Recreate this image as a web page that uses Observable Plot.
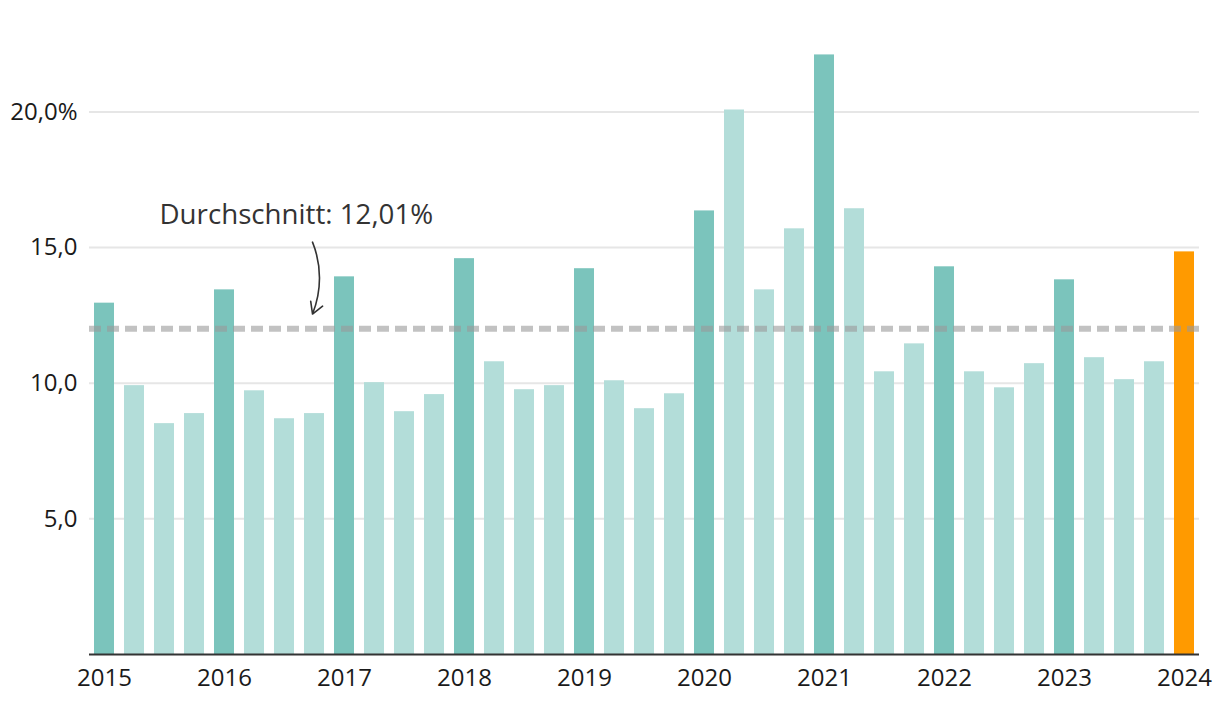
<!DOCTYPE html>
<html><head><meta charset="utf-8">
<script src="https://cdn.jsdelivr.net/npm/d3@7"></script>
<script src="https://cdn.jsdelivr.net/npm/@observablehq/plot@0.6"></script>
<style>
body{margin:0;background:#fff}
#chart svg{font-family:"Open Sans",sans-serif}
</style>
</head><body><div id="chart"></div>
<script>
const years = [2015,2016,2017,2018,2019,2020,2021,2022,2023,2024];
const quarters = ["Q1","Q2","Q3","Q4"];
const periods = years.flatMap(y => quarters.map(q => `${y} ${q}`)).slice(0, 37);
const values = [
  12.95, 9.91, 8.51, 8.88,
  13.44, 9.72, 8.69, 8.88,
  13.92, 10.02, 8.95, 9.58,
  14.59, 10.79, 9.76, 9.91,
  14.22, 10.09, 9.06, 9.61,
  16.35, 20.07, 13.44, 15.69,
  22.10, 16.43, 10.42, 11.45,
  14.29, 10.42, 9.83, 10.72,
  13.81, 10.94, 10.13, 10.79,
  14.84
];
const average = 12.01;
const averageLabel = "Durchschnitt: 12,01%";
const yTicks = [5, 10, 15, 20];
const yTickLabels = ["5,0", "10,0", "15,0", "20,0%"];
const kinds = ["Q1", "other", "current"];
const kindColors = ["#7bc4bc", "#b3ddd9", "#ff9a00"];

const data = periods.map((p, i) => ({
  period: p,
  value: values[i],
  kind: i === periods.length - 1 ? "current" : p.endsWith("Q1") ? "Q1" : "other"
}));
const q1Periods = periods.filter(p => p.endsWith("Q1"));

const chart = Plot.plot({
  width: 1220,
  height: 718,
  marginLeft: 89,
  marginRight: 21,
  marginTop: 30,
  marginBottom: 64,
  style: {fontFamily: "Open Sans", fontSize: "24px", color: "#1a1a1a"},
  x: {domain: periods, paddingInner: 1/3, paddingOuter: 1/6, align: 0.5},
  y: {domain: [0, 23]},
  color: {domain: kinds, range: kindColors},
  marks: [
    Plot.ruleY(yTicks, {stroke: "#e6e6e6", strokeWidth: 2}),
    Plot.barY(data, {x: "period", y: "value", fill: "kind"}),
    Plot.ruleY([average], {stroke: "#999", strokeOpacity: 0.6, strokeWidth: 6, strokeDasharray: "12,6"}),
    Plot.ruleY([0], {stroke: "#333", strokeWidth: 2}),
    Plot.axisY({ticks: yTicks, tickSize: 0, tickPadding: 12, label: null,
      tickFormat: d => yTickLabels[yTicks.indexOf(d)], fontSize: 24, fill: "#1a1a1a"}),
    Plot.axisX({ticks: q1Periods, tickSize: 0, tickPadding: 14, label: null,
      tickFormat: d => d.slice(0, 4), fontSize: 24, fill: "#1a1a1a"}),
    Plot.text([averageLabel], {x: () => periods[2], y: () => 16.2, text: d => d,
      textAnchor: "start", dx: -5, fontSize: 27.7, fill: "#333"}),
    Plot.arrow([0], {x1: () => periods[7], y1: () => 15.2, x2: () => periods[7], y2: () => 12.55,
      bend: 22, stroke: "#333", strokeWidth: 1.6, headLength: 12, dx: -2})
  ]
});
document.getElementById("chart").append(chart);
</script>
</body></html>
